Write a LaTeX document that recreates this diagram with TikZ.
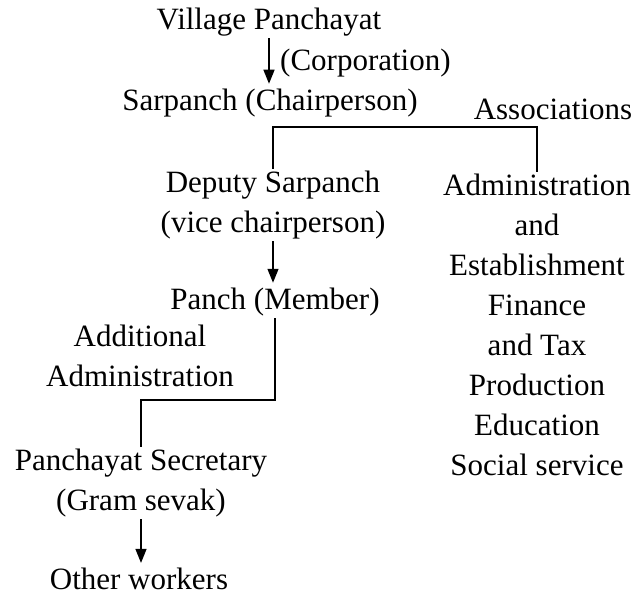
\documentclass[tikz,border=0pt]{standalone}
\usepackage{fontspec}
\setmainfont{Liberation Serif}
\usetikzlibrary{arrows.meta}

\begin{document}
\begin{tikzpicture}[x=1pt,y=-1pt,
  every node/.style={font=\fontsize{31}{40}\selectfont,align=center,inner sep=2pt},
  link/.style={line width=1.4pt},
  down/.style={link,shorten >=3pt,-{Triangle[length=14pt,width=11pt]}}]
\useasboundingbox (0,0) rectangle (637,595);
\node (village) at (269,22) {Village Panchayat};
\node[anchor=west] (corp) at (278,63) {(Corporation)};
\node (sarpanch) at (270,103) {Sarpanch (Chairperson)};
\node (assoc) at (553,109) {Associations};
\node (deputy) at (273,205) {Deputy Sarpanch\\(vice chairperson)};
\node (admin) at (537,325) {Administration\\and\\Establishment\\Finance\\and Tax\\Production\\Education\\Social service};
\node (panch) at (275,302) {Panch (Member)};
\node (extra) at (140,356) {Additional\\Administration};
\node (secretary) at (141,483) {Panchayat Secretary\\(Gram sevak)};
\node (workers) at (139,579) {Other workers};
\coordinate (bar) at (0,127);
\coordinate (split) at (0,400);
% arrows down the chain
\draw[down] (village.south) -- (village.south |- sarpanch.north);
\draw[down] (deputy.south) -- (deputy.south |- panch.north);
\draw[down] (secretary.south) -- (secretary.south |- workers.north);
% brackets
\draw[link] (deputy.north) -- (deputy.north |- bar) -| (admin.north);
\draw[link] (panch.south) -- (panch.south |- split) -| (secretary.north);
\end{tikzpicture}
\end{document}
